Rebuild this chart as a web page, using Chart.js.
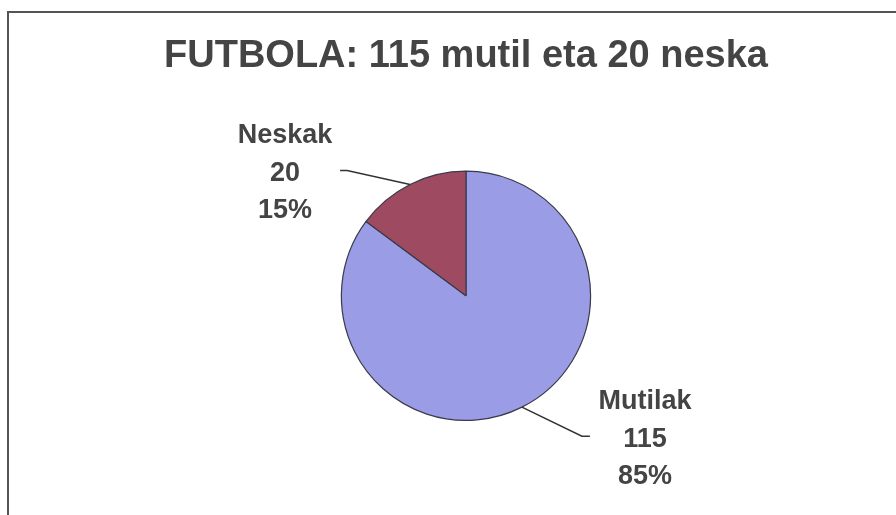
<!DOCTYPE html>
<html>
<head>
<meta charset="utf-8">
<script src="https://cdn.jsdelivr.net/npm/chart.js@4.4.0/dist/chart.umd.min.js"></script>
<style>
  html, body { margin: 0; padding: 0; background: #fff; }
  #wrap { width: 896px; height: 515px; }
</style>
</head>
<body>
<div id="wrap"><canvas id="chart" width="896" height="515"></canvas></div>
<script>
const titleText = "FUTBOLA: 115 mutil eta 20 neska";
const categories = ["Mutilak", "Neskak"];
const counts = [115, 20];
const sliceColors = ["#9b9ce6", "#9e4a60"];

// leader line + label placement per slice (offsets from slice edge)
const leaders = [
  { dx: 60, dy: 29, tail: 8 },
  { dx: -63, dy: -14, tail: -7 }
];

const frame = {
  id: "frame",
  beforeDraw(chart) {
    const ctx = chart.ctx;
    ctx.save();
    ctx.strokeStyle = "#555";
    ctx.lineWidth = 2;
    ctx.beginPath();
    ctx.moveTo(8, chart.height);
    ctx.lineTo(8, 12);
    ctx.lineTo(chart.width, 12);
    ctx.stroke();
    ctx.restore();
  }
};

const sliceLabels = {
  id: "sliceLabels",
  afterDraw(chart) {
    const ctx = chart.ctx;
    const meta = chart.getDatasetMeta(0);
    const total = counts.reduce((a, b) => a + b, 0);
    ctx.save();
    meta.data.forEach((arc, i) => {
      const p = arc.getProps(["x", "y", "startAngle", "endAngle", "outerRadius"], true);
      const mid = (p.startAngle + p.endAngle) / 2;
      const ex = p.x + Math.cos(mid) * p.outerRadius;
      const ey = p.y + Math.sin(mid) * p.outerRadius;
      const l = leaders[i];
      const bx = ex + l.dx, by = ey + l.dy;
      ctx.strokeStyle = "#333";
      ctx.lineWidth = 1.5;
      ctx.beginPath();
      ctx.moveTo(ex, ey);
      ctx.lineTo(bx, by);
      ctx.lineTo(bx + l.tail, by);
      ctx.stroke();

      const dir = Math.sign(l.tail);
      const cx = bx + l.tail + dir * 55;
      const cy = by + 3;
      const pct = Math.round(counts[i] / total * 100) + "%";
      const lines = [categories[i], String(counts[i]), pct];
      ctx.fillStyle = "#444";
      ctx.font = "bold 27px 'Liberation Sans', Arial, sans-serif";
      ctx.textAlign = "center";
      ctx.textBaseline = "middle";
      lines.forEach((t, k) => ctx.fillText(t, cx, cy + (k - 1) * 37.5));
    });
    ctx.restore();
  }
};

new Chart(document.getElementById("chart"), {
  type: "pie",
  data: {
    labels: categories,
    datasets: [{
      data: counts,
      backgroundColor: sliceColors,
      borderColor: "#3a3a4a",
      borderWidth: 1.2
    }]
  },
  options: {
    responsive: false,
    animation: false,
    layout: { padding: { left: 36, right: 0, top: 0, bottom: 94 } },
    plugins: {
      legend: { display: false },
      tooltip: { enabled: false },
      title: {
        display: true,
        text: titleText,
        color: "#444",
        font: { family: "'Liberation Sans', Arial, sans-serif", size: 38, weight: "bold" },
        padding: { top: 34, bottom: 91 }
      }
    }
  },
  plugins: [frame, sliceLabels]
});
</script>
</body>
</html>
